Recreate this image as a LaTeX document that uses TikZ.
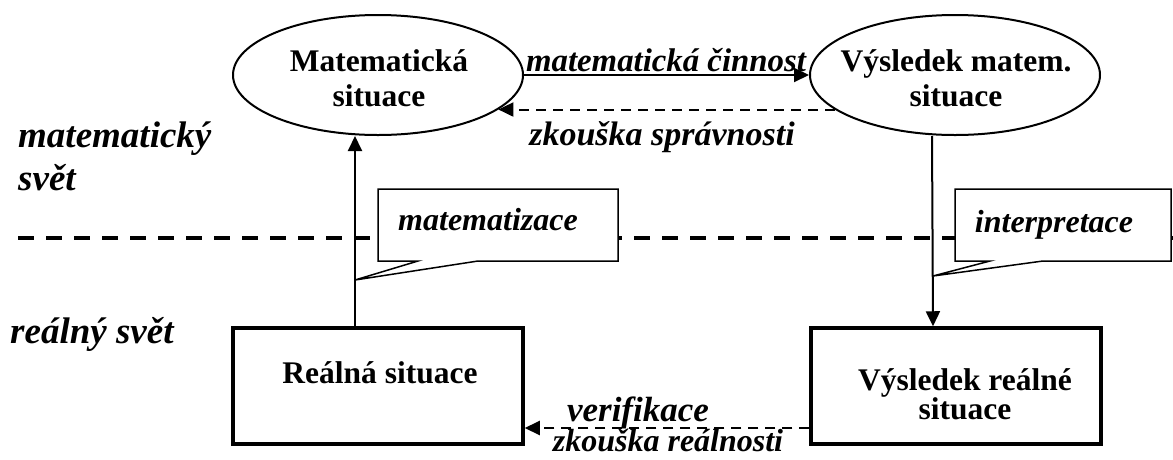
\documentclass[tikz,border=0pt]{standalone}
\usepackage{fontspec}
\setmainfont{Liberation Serif}
\usetikzlibrary{arrows.meta,shapes.geometric}
\begin{document}
\begin{tikzpicture}[x=1pt,y=-1pt,
  ell/.style={ellipse, draw, line width=2pt, minimum width=290pt, minimum height=120pt, inner sep=0pt},
  box/.style={rectangle, draw, line width=3.5pt, minimum width=290pt, minimum height=116pt, inner sep=0pt},
  btext/.style={font=\fontsize{31.5}{#1}\selectfont\bfseries, align=center, inner sep=0pt, anchor=base},
  lbl/.style={font=\fontsize{#1}{#1}\selectfont\bfseries\itshape, inner sep=0pt, anchor=base},
  world/.style={font=\fontsize{37}{43}\selectfont\bfseries\itshape, inner sep=0pt, anchor=base west, align=left},
  arr/.style={line width=2pt, -{Triangle[length=15pt,width=14pt]}},
  darr/.style={arr, dash pattern=on 10pt off 7pt},
  callout/.style={draw, fill=white, line width=1.5pt, line join=miter},
]
\useasboundingbox (0,0) rectangle (1173,459);

% divider
\coordinate (dl) at (18,238);
\coordinate (dr) at (1173,238);
\draw[line width=4pt, dash pattern=on 16pt off 12pt] (dl) -- (dr);

% world labels (base = last line)
\node[world] (mw) at (18,190) {matematický\\svět};
\node[world] (rw) at (10,343) {reálný svět};

% main nodes
\node[ell] (ms) at (378,75) {};
\node[ell] (ve) at (955,75) {};
\node[btext=35] (mst) at (379,106) {Matematická\\situace};
\node[btext=35] (vet) at (956,106) {Výsledek matem.\\situace};
\node[box] (rs) at (378,386) {};
\node[box] (vr) at (956,386) {};
\node[btext=35] (rst) at (380,383) {Reálná situace};
\node[btext=29] (vrt) at (965,419) {Výsledek reálné\\situace};

% connectors
\draw[arr] (ms.east) -- (ve.west);
\node[lbl=32.8] (mc) at (666,71) {matematická činnost};
\draw[darr] (ve.196.5) -- (ms.-16.5);
\node[lbl=34] (zs) at (662,145) {zkouška správnosti};
\draw[arr] ([xshift=-23pt]rs.north) -- ([xshift=-23pt]ms.south);
\draw[arr] ([xshift=-23pt]ve.south) -- ([xshift=-23pt]vr.north);
\draw[darr] ([yshift=-42pt]vr.west) -- ([yshift=-42pt]rs.east);
\node[lbl=35] (vf) at (638,421) {verifikace};
\node[lbl=32] (zr) at (668,451) {zkouška reálnosti};

% callouts
\draw[callout] (378,189) -- (618,189) -- (618,261) -- (478,261) -- (355,280) -- (418,261) -- (378,261) -- cycle;
\node[lbl=32] (mz) at (488,230) {matematizace};
\draw[callout] (955,189) -- (1171,189) -- (1171,261) -- (1043,261) -- (933,276) -- (990,261) -- (955,261) -- cycle;
\node[lbl=32] (ip) at (1054,232) {interpretace};
\end{tikzpicture}
\end{document}
